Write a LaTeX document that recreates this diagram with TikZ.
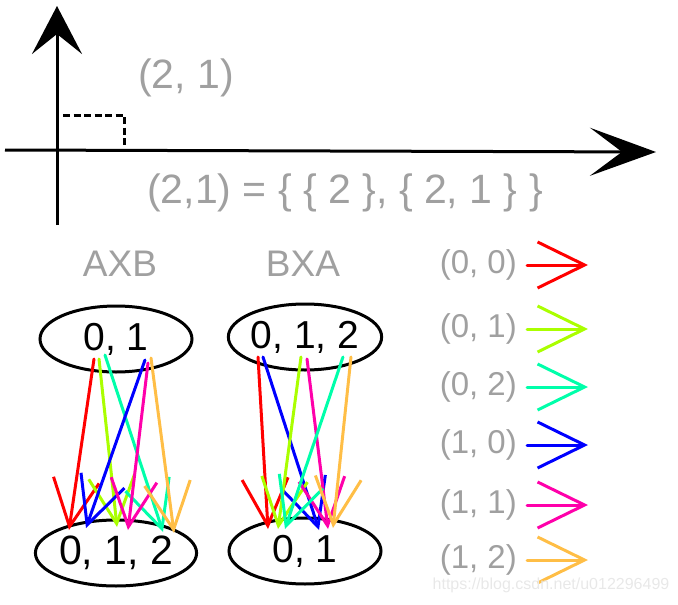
\documentclass[tikz,border=0pt]{standalone}
\usepackage{fontspec}
\setmainfont{Liberation Sans}
\usetikzlibrary{arrows.meta,shapes.geometric,calc}
\definecolor{txtgray}{RGB}{160,160,160}
\definecolor{cred}{RGB}{255,0,0}
\definecolor{clime}{RGB}{170,255,0}
\definecolor{cspring}{RGB}{0,255,170}
\definecolor{cblue}{RGB}{0,0,255}
\definecolor{cmag}{RGB}{255,0,170}
\definecolor{corange}{RGB}{255,190,70}
\definecolor{wmgray}{RGB}{232,232,232}
\begin{document}
\begin{tikzpicture}[x=1pt,y=-1pt,
  setnode/.style={draw,ellipse,line width=3pt,minimum width=152pt,minimum height=66pt,inner sep=0pt,font=\fontsize{39}{39}\selectfont},
  barb/.style={line width=3pt,line cap=round,-{Straight Barb[length=47pt,width=46pt]}},
  glabel/.style={text=txtgray,inner sep=0pt},
  bigfont/.style={font=\fontsize{41}{41}\selectfont},
  setfont/.style={font=\fontsize{37}{37}\selectfont},
  legfont/.style={font=\fontsize{33}{33}\selectfont},
  axis/.style={line width=3pt},
]
\useasboundingbox (0,0) rectangle (678,605);

% axes
\coordinate (ybot) at (57,225);
\coordinate (ytop) at (57,6);
\coordinate (xl) at (5,150);
\coordinate (xr) at (656,152);
\draw[axis,-{Stealth[length=48pt,width=50pt,inset=20pt]}] (ybot) -- (ytop);
\draw[axis,-{Stealth[length=66pt,width=48pt,inset=32pt]}] (xl) -- (xr);

% dashed corner
\coordinate (d1) at (63,115);
\coordinate (d2) at (124,115);
\coordinate (d3) at (124,148);
\draw[line width=3pt,dash pattern=on 7pt off 3.5pt] (d1) -- (d2) -- (d3);

% texts
\node[glabel,bigfont] (p21) at (186,78) {(2, 1)};
\node[glabel,bigfont] (def) at (345,193) {(2,1) = \{ \{ 2 \}, \{ 2, 1 \} \}};
\node[glabel,setfont] (axb) at (120,264) {AXB};
\node[glabel,setfont] (bxa) at (303,264) {BXA};

% sets
\node[setnode] (a1) at (116,339) {0, 1};
\node[setnode,font=\fontsize{41}{41}\selectfont] (a2) at (116,553) {0, 1, 2};
\node[setnode] (b1) at (305,337) {0, 1, 2};
\node[setnode] (b2) at (305,551) {0, 1};

% AXB arrows
\draw[barb,cred]    ($(a1.center)+(-22,20)$) -- ($(a2.center)+(-47,-23)$);
\draw[barb,clime]   ($(a1.center)+(-17,20)$) -- ($(a2.center)+(1,-26)$);
\draw[barb,cspring] ($(a1.center)+(-11,16)$) -- ($(a2.center)+(47,-21)$);
\draw[barb,cblue]   ($(a1.center)+(29,21)$)  -- ($(a2.center)+(-30,-25)$);
\draw[barb,cmag]    ($(a1.center)+(32,24)$)  -- ($(a2.center)+(12,-23)$);
\draw[barb,corange] ($(a1.center)+(35,19)$)  -- ($(a2.center)+(58,-20)$);

% BXA arrows
\draw[barb,cred]    ($(b1.center)+(-47,20)$) -- ($(b2.center)+(-37,-22)$);
\draw[barb,cblue]   ($(b1.center)+(-42,20)$) -- ($(b2.center)+(14,-21)$);
\draw[barb,clime]   ($(b1.center)+(-4,20)$)  -- ($(b2.center)+(-27,-22)$);
\draw[barb,cmag]    ($(b1.center)+(2,22)$)   -- ($(b2.center)+(23,-22)$);
\draw[barb,cspring] ($(b1.center)+(38,20)$)  -- ($(b2.center)+(-20,-22)$);
\draw[barb,corange] ($(b1.center)+(46,20)$)  -- ($(b2.center)+(28,-23)$);

% legend
\node[glabel,legfont,anchor=east] (l1) at (517,265) {(0, 0)};
\node[glabel,legfont,anchor=east] (l2) at (517,329) {(0, 1)};
\node[glabel,legfont,anchor=east] (l3) at (517,387) {(0, 2)};
\node[glabel,legfont,anchor=east] (l4) at (517,445) {(1, 0)};
\node[glabel,legfont,anchor=east] (l5) at (517,505) {(1, 1)};
\node[glabel,legfont,anchor=east] (l6) at (517,560) {(1, 2)};
\coordinate (t1) at (588,265);
\coordinate (t2) at (588,329);
\coordinate (t3) at (588,387);
\coordinate (t4) at (588,445);
\coordinate (t5) at (588,505);
\coordinate (t6) at (588,560);
\draw[barb,cred]    ([xshift=10pt]l1.east) -- (t1);
\draw[barb,clime]   ([xshift=10pt]l2.east) -- (t2);
\draw[barb,cspring] ([xshift=10pt]l3.east) -- (t3);
\draw[barb,cblue]   ([xshift=10pt]l4.east) -- (t4);
\draw[barb,cmag]    ([xshift=10pt]l5.east) -- (t5);
\draw[barb,corange] ([xshift=10pt]l6.east) -- (t6);

% watermark
\node[text=wmgray,inner sep=0pt,font=\fontsize{16}{16}\selectfont] (wm) at (551,585) {https://blog.csdn.net/u012296499};
\end{tikzpicture}
\end{document}
